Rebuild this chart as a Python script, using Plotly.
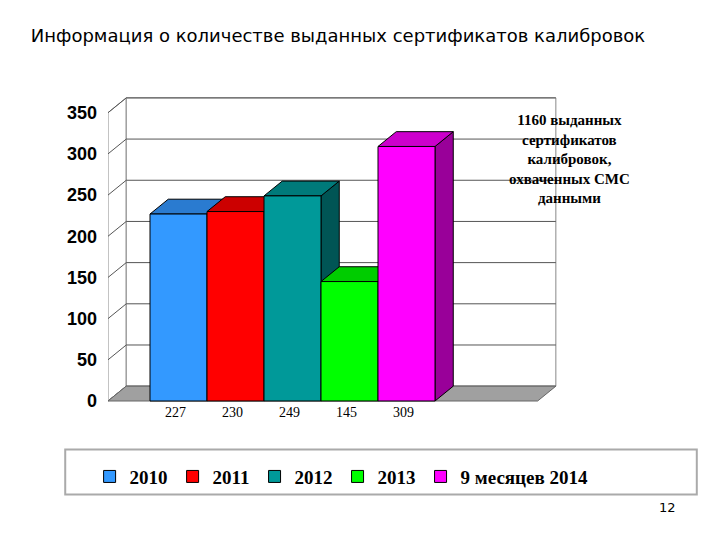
import plotly.graph_objects as go

categories = ["2010", "2011", "2012", "2013", "9 месяцев 2014"]
values = [227, 230, 249, 145, 309]
value_labels = ["227", "230", "249", "145", "309"]
y_ticks = [0, 50, 100, 150, 200, 250, 300, 350]

front = ["#3399FF", "#FF0000", "#009999", "#00FF00", "#FF00FF"]
top = ["#2A7BD0", "#CC0000", "#007A7A", "#00CC00", "#CC00CC"]
side = ["#1F5FA8", "#990000", "#005555", "#009900", "#990099"]

dx, dy = 0.32, 18
xl, xr = -1.237, 6.62
y0r, y1r = -8.5, 380

fig = go.Figure()
for i, c in enumerate(categories):
    fig.add_trace(go.Bar(x=[i], y=[values[i]], width=1, name=f"<b>{c}</b>",
                         marker=dict(color=front[i], line=dict(color="black", width=1))))

shapes = []
shapes.append(dict(type="path", layer="below",
                   path=f"M{xl},0 L{xl+dx},{dy} L{xl+dx},{350+dy} L{xl},350 Z",
                   line=dict(color="#888", width=1), fillcolor="white"))
shapes.append(dict(type="path", layer="below",
                   path=f"M{xl+dx},{dy} L{xr},{dy} L{xr},{350+dy} L{xl+dx},{350+dy} Z",
                   line=dict(color="#888", width=1), fillcolor="white"))
for v in y_ticks:
    shapes.append(dict(type="line", layer="below", x0=xl + dx, x1=xr, y0=v + dy, y1=v + dy,
                       line=dict(color="#555", width=1)))
    shapes.append(dict(type="line", layer="below", x0=xl, x1=xl + dx, y0=v, y1=v + dy,
                       line=dict(color="#555", width=1)))
shapes.append(dict(type="path", layer="below",
                   path=f"M{xl},0 L{xr-dx},0 L{xr},{dy} L{xl+dx},{dy} Z",
                   line=dict(color="#666", width=1), fillcolor="#A0A0A0"))
for i, v in enumerate(values):
    x0, x1 = i - 0.5, i + 0.5
    shapes.append(dict(type="path", layer="below",
                       path=f"M{x1},0 L{x1+dx},{dy} L{x1+dx},{v+dy} L{x1},{v} Z",
                       line=dict(color="black", width=1), fillcolor=side[i]))
    shapes.append(dict(type="path", layer="below",
                       path=f"M{x0},{v} L{x0+dx},{v+dy} L{x1+dx},{v+dy} L{x1},{v} Z",
                       line=dict(color="black", width=1), fillcolor=top[i]))
shapes.append(dict(type="rect", xref="paper", yref="paper", x0=-0.093, x1=1.28,
                   y0=-0.27, y1=-0.13, line=dict(color="#AAA", width=2)))

annotations = []
for i, t in enumerate(value_labels):
    annotations.append(dict(x=i - 0.05, xref="x", yref="paper",
                            y=(-25 - y0r) / (y1r - y0r), text=t, showarrow=False,
                            font=dict(family="Liberation Serif", size=14, color="black")))
annotations.append(dict(xref="paper", yref="paper", x=1.14, y=0.93, yanchor="top",
                        text="<b>1160 выданных<br>сертификатов<br>калибровок,<br>охваченных СМС<br>данными</b>",
                        showarrow=False, align="center",
                        font=dict(family="Liberation Serif", size=15, color="black")))
annotations.append(dict(xref="paper", yref="paper", x=1.24, y=-0.34, text="12",
                        showarrow=False, font=dict(family="DejaVu Sans", size=13, color="black")))

fig.update_layout(
    width=720, height=540,
    margin=dict(l=100, r=160, t=80, b=140, autoexpand=False),
    paper_bgcolor="white", plot_bgcolor="rgba(0,0,0,0)",
    barmode="overlay",
    title=dict(text="Информация о количестве выданных сертификатов калибровок",
               x=0.5, xref="paper", xanchor="center", y=0.96, yref="container",
               font=dict(family="DejaVu Sans", size=18, color="black")),
    xaxis=dict(range=[xl, xl + 460 / 57], visible=False, fixedrange=True),
    yaxis=dict(range=[y0r, y1r], tickvals=y_ticks, showgrid=False, zeroline=False,
               showline=False, ticks="", ticklabelstandoff=10,
               tickfont=dict(family="Liberation Sans", size=18, color="black", weight="bold")),
    shapes=shapes, annotations=annotations,
    legend=dict(orientation="h", x=-0.04, y=-0.155, xanchor="left", yanchor="top",
                bgcolor="rgba(0,0,0,0)",
                font=dict(family="Liberation Serif", size=19, color="black"),
                traceorder="normal"),
    showlegend=True,
)
fig.write_html("out.html")
